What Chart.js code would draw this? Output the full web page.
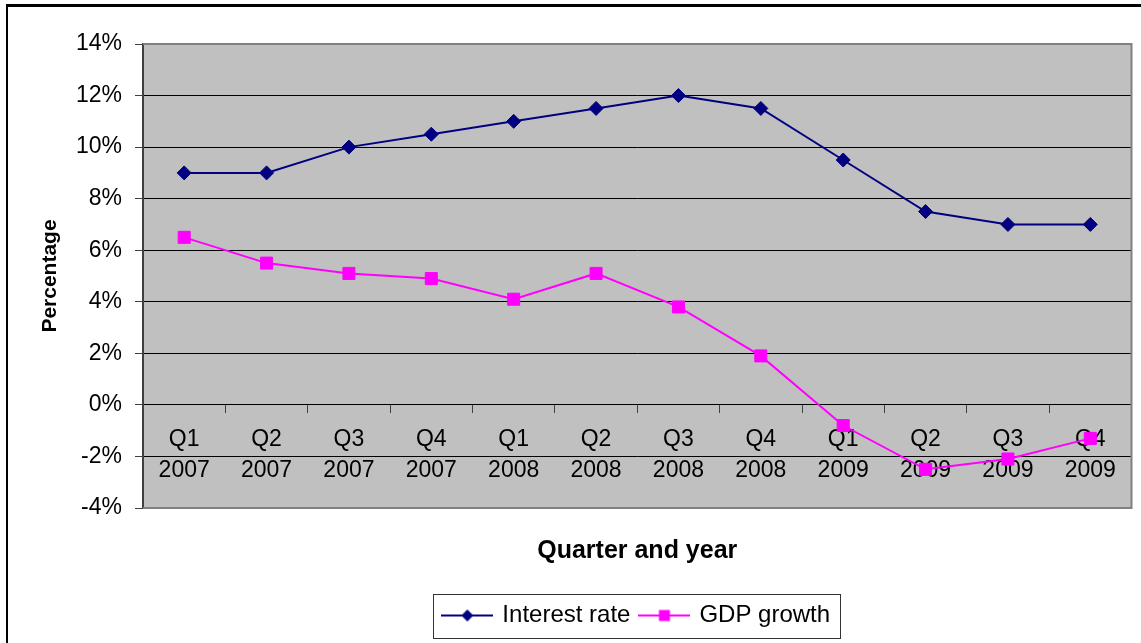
<!DOCTYPE html>
<html>
<head>
<meta charset="utf-8">
<script src="https://cdn.jsdelivr.net/npm/chart.js@4.4.0/dist/chart.umd.min.js"></script>
<style>
  html, body { margin: 0; padding: 0; background: #fff; overflow: hidden; }
  #frame { position: absolute; left: 6px; top: 4px; width: 1300px; height: 800px;
           border-top: 3px solid #000; border-left: 2px solid #000; }
  #chart { position: absolute; left: 0; top: 0; }
</style>
</head>
<body>
<div id="frame"></div>
<canvas id="chart" width="1141" height="660"></canvas>
<script>
const quarters = ['Q1', 'Q2', 'Q3', 'Q4', 'Q1', 'Q2', 'Q3', 'Q4', 'Q1', 'Q2', 'Q3', 'Q4'];
const years = ['2007', '2007', '2007', '2007', '2008', '2008', '2008', '2008', '2009', '2009', '2009', '2009'];
const interestRate = [9, 9, 10, 10.5, 11, 11.5, 12, 11.5, 9.5, 7.5, 7, 7];
const gdpGrowth = [6.5, 5.5, 5.1, 4.9, 4.1, 5.1, 3.8, 1.9, -0.8, -2.5, -2.1, -1.3];
const yTicks = [-4, -2, 0, 2, 4, 6, 8, 10, 12, 14];

const labels = quarters.map((q, i) => [q, years[i]]);

Chart.defaults.font.family = "'Liberation Sans', Arial, sans-serif";
Chart.defaults.color = '#000';

// legend icons: short line with the marker in the middle
function legendIcon(color, shape) {
  const c = document.createElement('canvas');
  c.width = 52; c.height = 16;
  const g = c.getContext('2d');
  g.strokeStyle = color; g.lineWidth = 2;
  g.beginPath(); g.moveTo(0, 8); g.lineTo(52, 8); g.stroke();
  g.fillStyle = color;
  g.beginPath();
  if (shape === 'diamond') {
    g.moveTo(26, 2); g.lineTo(32, 8); g.lineTo(26, 14); g.lineTo(20, 8);
  } else {
    g.rect(20.5, 2.5, 11, 11);
  }
  g.closePath(); g.fill();
  return c;
}
const icons = [legendIcon('#000080', 'diamond'), legendIcon('#FF00FF', 'square')];

const plotFrame = {
  id: 'plotFrame',
  beforeDraw(chart) {
    const {ctx, chartArea: a} = chart;
    ctx.save();
    ctx.fillStyle = '#C0C0C0';
    ctx.fillRect(a.left, a.top, a.right - a.left, a.bottom - a.top);
    ctx.restore();
  },
  beforeDatasetsDraw(chart) {
    const {ctx, chartArea: a} = chart;
    ctx.save();
    ctx.strokeStyle = '#808080';
    ctx.lineWidth = 2;
    ctx.beginPath();
    ctx.moveTo(a.left, a.top);
    ctx.lineTo(a.right, a.top);
    ctx.lineTo(a.right, a.bottom);
    ctx.lineTo(a.left, a.bottom);
    ctx.stroke();
    ctx.restore();
  },
  afterDraw(chart) {
    const hb = chart.legend.legendHitBoxes;
    if (!hb.length) return;
    const first = hb[0], last = hb[hb.length - 1];
    const x1 = Math.round(first.left - 11) + 0.5;
    const x2 = Math.round(last.left + last.width + 10) + 0.5;
    const y1 = Math.round(first.top - 9.5) + 0.5;
    const y2 = y1 + 44;
    const ctx = chart.ctx;
    ctx.save();
    ctx.strokeStyle = '#333';
    ctx.lineWidth = 1;
    ctx.strokeRect(x1, y1, x2 - x1, y2 - y1);
    ctx.restore();
  }
};

new Chart(document.getElementById('chart'), {
  type: 'line',
  data: {
    labels: labels,
    datasets: [
      {
        label: 'Interest rate',
        data: interestRate,
        borderColor: '#000080',
        backgroundColor: '#000080',
        borderWidth: 2,
        pointStyle: 'rectRot',
        pointRadius: 7,
        pointBorderWidth: 1,
        tension: 0
      },
      {
        label: 'GDP growth',
        data: gdpGrowth,
        borderColor: '#FF00FF',
        backgroundColor: '#FF00FF',
        borderWidth: 2,
        pointStyle: 'rect',
        pointRadius: 8.5,
        pointBorderWidth: 1,
        tension: 0
      }
    ]
  },
  options: {
    responsive: false,
    animation: false,
    layout: { padding: { top: 44, left: 10, right: 9, bottom: 22.5 } },
    scales: {
      x: {
        position: { y: 0 },
        offset: true,
        afterFit: s => { s.height = 0; },
        grid: { offset: true, drawOnChartArea: false, tickLength: 8, tickColor: '#404040', tickWidth: 1 },
        border: { display: false },
        ticks: {
          autoSkip: false, maxRotation: 0, padding: 11,
          font: { size: 23, lineHeight: 1.35 }
        }
      },
      y: {
        min: -4,
        max: 14,
        afterBuildTicks: s => { s.ticks = yTicks.map(v => ({ value: v })); },
        afterFit: s => { s.width = 133; },
        grid: { color: '#000', lineWidth: 1, tickLength: 8, tickColor: '#404040' },
        border: { color: '#404040', width: 2 },
        ticks: {
          padding: 13,
          font: { size: 23 },
          callback: v => v + '%'
        },
        title: {
          display: true,
          text: 'Percentage',
          font: { size: 21, weight: 'bold' },
          padding: { top: 27.4, bottom: 0 }
        }
      }
    },
    plugins: {
      tooltip: { enabled: false },
      title: {
        display: true,
        text: 'Quarter and year',
        position: 'bottom',
        fullSize: false,
        weight: 500,
        font: { size: 25, weight: 'bold', lineHeight: 1.2 },
        padding: { top: 28.5, bottom: 26 }
      },
      legend: {
        position: 'bottom',
        fullSize: false,
        labels: {
          usePointStyle: true,
          pointStyleWidth: 46,
          padding: 11,
          font: { size: 24 },
          generateLabels: chart => {
            const items = Chart.defaults.plugins.legend.labels.generateLabels(chart);
            return items.map(it => Object.assign(it, { pointStyle: icons[it.datasetIndex], rotation: 0 }));
          }
        }
      }
    }
  },
  plugins: [plotFrame]
});
</script>
</body>
</html>
